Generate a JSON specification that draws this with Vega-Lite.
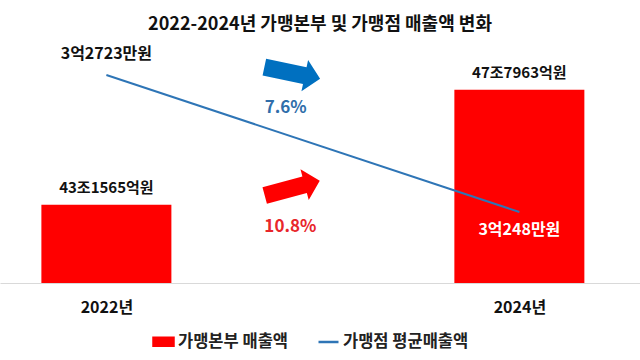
{
  "$schema": "https://vega.github.io/schema/vega-lite/v6.json",
  "width": 640,
  "height": 248,
  "autosize": "none",
  "padding": {"left": 0, "right": 0, "top": 35, "bottom": 77},
  "background": "white",
  "config": {"view": {"stroke": null}, "font": "Noto Sans CJK KR"},
  "title": {
    "text": "2022-2024년 가맹본부 및 가맹점 매출액 변화",
    "fontSize": 18,
    "fontWeight": "bold",
    "color": "#111111",
    "anchor": "middle",
    "font": "Noto Sans CJK KR",
    "offset": 1
  },
  "datasets": {
    "main": [
      {"year": 2022, "sales": 43.1565, "salesLabel": "43조1565억원", "avg": 32723, "avgLabel": "3억2723만원"},
      {"year": 2024, "sales": 47.7963, "salesLabel": "47조7963억원", "avg": 30248, "avgLabel": "3억248만원"}
    ],
    "notes": [
      {"series": "가맹점 평균매출액", "change": "7.6%"},
      {"series": "가맹본부 매출액", "change": "10.8%"}
    ]
  },
  "layer": [
    {
      "layer": [
        {
          "data": {"name": "main"},
          "mark": {"type": "bar", "width": 130},
          "encoding": {
            "x": {
              "field": "year",
              "type": "quantitative",
              "scale": {"domain": [2021.509, 2024.56], "nice": false, "zero": false},
              "axis": {
                "values": [2022, 2024],
                "labelExpr": "datum.value + '년'",
                "title": null,
                "ticks": false,
                "grid": false,
                "domainColor": "#d9d9d9",
                "domainWidth": 1,
                "labelFontSize": 16,
                "labelFontWeight": "bold",
                "labelColor": "#111111",
                "labelPadding": 16,
                "labelFont": "Noto Sans CJK KR",
                "labelFlush": false
              }
            },
            "y": {
              "field": "sales",
              "type": "quantitative",
              "scale": {"domain": [40, 50], "zero": false, "nice": false},
              "axis": null
            },
            "y2": {"datum": 40},
            "color": {
              "datum": "가맹본부 매출액",
              "scale": {"domain": ["가맹본부 매출액", "가맹점 평균매출액"], "range": ["#ff0000", "#2e75b6"]},
              "legend": {
                "orient": "none",
                "legendX": 152,
                "legendY": 295,
                "direction": "horizontal",
                "title": null,
                "labelFontSize": 16.5,
                "labelFontWeight": "bold",
                "labelColor": "#222222",
                "labelFont": "Noto Sans CJK KR",
                "symbolSize": 400,
                "columnPadding": 24,
                "labelOffset": 3,
                "padding": 0,
                "encode": {
                  "symbols": {
                    "update": {
                      "shape": {"signal": "datum.label === '가맹본부 매출액' ? 'M-1,-0.4H1V0.4H-1Z' : 'M-1,0H1'"},
                      "fill": {"signal": "datum.label === '가맹본부 매출액' ? '#ff0000' : 'transparent'"},
                      "stroke": {"signal": "datum.label === '가맹본부 매출액' ? 'transparent' : '#2e75b6'"},
                      "strokeWidth": {"value": 2.5},
                      "opacity": {"value": 1}
                    }
                  }
                }
              }
            }
          }
        },
        {
          "data": {"name": "main"},
          "mark": {"type": "text", "dy": -17, "fontSize": 15, "fontWeight": "bold", "color": "#111111", "baseline": "middle"},
          "encoding": {
            "x": {"field": "year", "type": "quantitative"},
            "y": {"field": "sales", "type": "quantitative"},
            "text": {"field": "salesLabel"}
          }
        },
        {
          "data": {"name": "notes"},
          "transform": [{"filter": "datum.series === '가맹점 평균매출액'"}],
          "mark": {"type": "point", "shape": "M-1,-0.3L0.45,-0.3L0.45,-0.56L1,0L0.45,0.56L0.45,0.3L-1,0.3Z", "size": 3249, "angle": 12, "filled": true, "color": "#0070c0", "opacity": 1},
          "encoding": {
            "x": {"datum": 2022.9, "type": "quantitative"},
            "y": {"datum": 48.47, "type": "quantitative"}
          }
        },
        {
          "data": {"name": "notes"},
          "transform": [{"filter": "datum.series === '가맹본부 매출액'"}],
          "mark": {"type": "point", "shape": "M-1,-0.3L0.45,-0.3L0.45,-0.56L1,0L0.45,0.56L0.45,0.3L-1,0.3Z", "size": 3249, "angle": -15, "filled": true, "color": "#ff0000", "opacity": 1},
          "encoding": {
            "x": {"datum": 2022.9, "type": "quantitative"},
            "y": {"datum": 43.83, "type": "quantitative"}
          }
        },
        {
          "data": {"name": "notes"},
          "transform": [{"filter": "datum.series === '가맹점 평균매출액'"}],
          "mark": {"type": "text", "fontSize": 17, "fontWeight": "bold", "color": "#2f6eaa", "baseline": "middle"},
          "encoding": {
            "x": {"datum": 2022.868, "type": "quantitative"},
            "y": {"datum": 47.06, "type": "quantitative"},
            "text": {"field": "change"}
          }
        },
        {
          "data": {"name": "notes"},
          "transform": [{"filter": "datum.series === '가맹본부 매출액'"}],
          "mark": {"type": "text", "fontSize": 17, "fontWeight": "bold", "color": "#e8262b", "baseline": "middle"},
          "encoding": {
            "x": {"datum": 2022.891, "type": "quantitative"},
            "y": {"datum": 42.26, "type": "quantitative"},
            "text": {"field": "change"}
          }
        }
      ]
    },
    {
      "layer": [
        {
          "data": {"name": "main"},
          "mark": {"type": "line", "strokeWidth": 2},
          "encoding": {
            "x": {"field": "year", "type": "quantitative"},
            "y": {
              "field": "avg",
              "type": "quantitative",
              "scale": {"domain": [28965, 33446], "zero": false, "nice": false},
              "axis": null
            },
            "color": {"datum": "가맹점 평균매출액"}
          }
        },
        {
          "data": {"name": "main"},
          "transform": [{"filter": "datum.year === 2022"}],
          "mark": {"type": "text", "dy": -21, "fontSize": 16, "fontWeight": "bold", "color": "#111111", "baseline": "middle"},
          "encoding": {
            "x": {"field": "year", "type": "quantitative"},
            "y": {"field": "avg", "type": "quantitative"},
            "text": {"field": "avgLabel"}
          }
        },
        {
          "data": {"name": "main"},
          "transform": [{"filter": "datum.year === 2024"}],
          "mark": {"type": "text", "dy": 18, "fontSize": 16, "fontWeight": "bold", "color": "#ffffff", "baseline": "middle"},
          "encoding": {
            "x": {"field": "year", "type": "quantitative"},
            "y": {"field": "avg", "type": "quantitative"},
            "text": {"field": "avgLabel"}
          }
        }
      ]
    }
  ],
  "resolve": {"scale": {"y": "independent"}}
}
